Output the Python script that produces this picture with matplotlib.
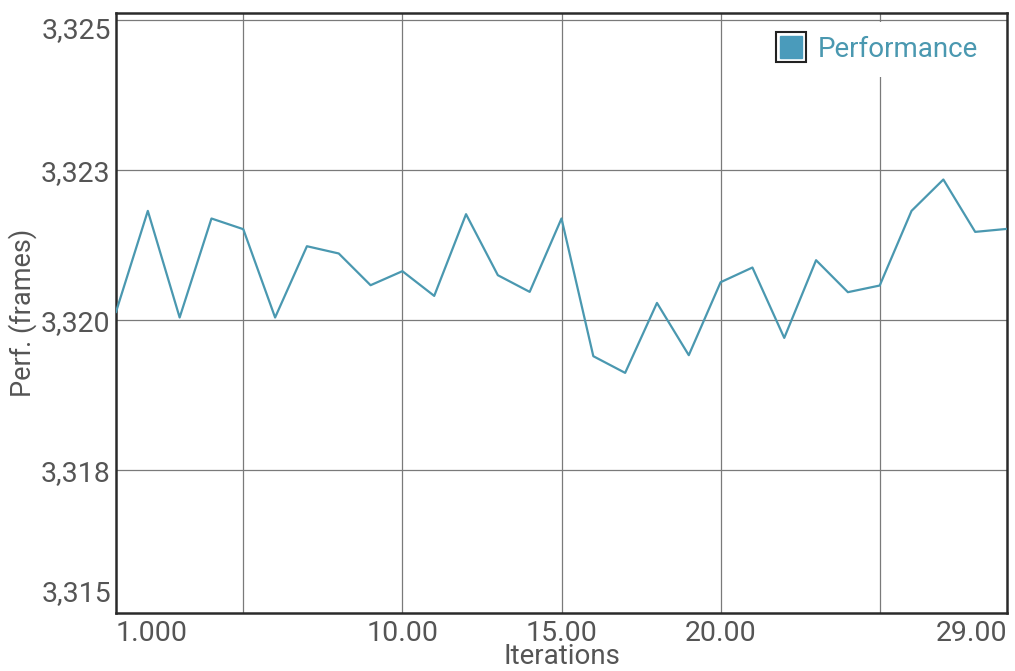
import matplotlib
matplotlib.use("Agg")
import matplotlib.pyplot as plt
import matplotlib.transforms as mtransforms
from matplotlib.lines import Line2D

# ---- data ----
iterations = list(range(1, 30))
performance = [
    3.320138, 3.321822, 3.320045, 3.321695, 3.321517, 3.320045, 3.321233,
    3.321112, 3.320583, 3.320817, 3.320405, 3.321767, 3.320750, 3.320472,
    3.321695, 3.319400, 3.319122, 3.320288, 3.319417, 3.320633, 3.320878,
    3.319705, 3.321000, 3.320467, 3.320578, 3.321822, 3.322345, 3.321472,
    3.321522,
]
x_grid = [5, 10, 15, 20, 25]
x_grid_labels = ["", "10.00", "15.00", "20.00", ""]
x_min_label, x_max_label = "1.000", "29.00"
y_grid = [3.3175, 3.3200, 3.3225, 3.3250]
y_grid_labels = ["3,318", "3,320", "3,323", ""]
y_min_label, y_max_label = "3,315", "3,325"
y_limits = (3.31512, 3.32512)
series_name = "Performance"
x_title = "Iterations"
y_title = "Perf. (frames)"

# ---- style ----
plt.rcParams["font.family"] = ["Roboto", "DejaVu Sans"]
TEXT = "#555555"
LINE = "#4a98b0"
FILL = "#4a9bbb"
TICK_FS = 20.5

fig = plt.figure(figsize=(10.15, 6.71), dpi=100)
ax = fig.add_axes([116 / 1015, 58 / 671, 891 / 1015, 600 / 671])

ax.plot(iterations, performance, color=LINE, lw=1.6, zorder=3)

ax.set_xlim(iterations[0], iterations[-1])
ax.set_ylim(*y_limits)

ax.set_xticks(x_grid)
ax.set_xticklabels(x_grid_labels)
ax.set_yticks(y_grid)
ax.set_yticklabels(y_grid_labels)
ax.tick_params(axis="both", length=0, labelsize=TICK_FS, labelcolor=TEXT)
ax.tick_params(axis="x", pad=5)
ax.tick_params(axis="y", pad=4)
ax.grid(True, color="#7a7a7a", lw=0.9, zorder=1)

for s in ax.spines.values():
    s.set_color("#2a2a2a")
    s.set_linewidth(1.8)

# edge labels, kept inside the axis extent
off_x = mtransforms.offset_copy(ax.transData, fig=fig, x=0, y=-5, units="points")
ax.text(iterations[0], y_limits[0], x_min_label, transform=off_x,
        ha="left", va="top", fontsize=TICK_FS, color=TEXT)
ax.text(iterations[-1], y_limits[0], x_max_label, transform=off_x,
        ha="right", va="top", fontsize=TICK_FS, color=TEXT)
off_y = mtransforms.offset_copy(ax.transData, fig=fig, x=-3.5, y=-3, units="points")
ax.text(iterations[0], y_limits[1], y_max_label, transform=off_y,
        ha="right", va="top", fontsize=TICK_FS, color=TEXT)
off_y2 = mtransforms.offset_copy(ax.transData, fig=fig, x=-3.5, y=4, units="points")
ax.text(iterations[0], y_limits[0], y_min_label, transform=off_y2,
        ha="right", va="bottom", fontsize=TICK_FS, color=TEXT)
for t in ax.texts:
    t.set_clip_on(False)

ax.set_xlabel(x_title, fontsize=20, color=TEXT)
ax.xaxis.set_label_coords(0.5, -0.05)
ax.xaxis.label.set_va("top")
ax.set_ylabel(y_title, fontsize=19.5, color=TEXT)
ax.yaxis.set_label_coords(-0.089, 0.5)

outer = Line2D([], [], ls="none", marker="s", markersize=21, mfc="white",
               mec="#222222", mew=1.5)
inner = Line2D([], [], ls="none", marker="s", markersize=16, mfc=FILL, mec=FILL)
leg = ax.legend([(outer, inner)], [series_name], loc="upper right",
                bbox_to_anchor=(0.983, 0.985), borderaxespad=0, fontsize=20,
                frameon=True, facecolor="white", edgecolor="none", framealpha=1,
                handlelength=1.1, handletextpad=0.4, borderpad=0.5)
for t in leg.get_texts():
    t.set_color(LINE)
leg.set_zorder(5)

fig.savefig("out.png", dpi=100, facecolor="white")
